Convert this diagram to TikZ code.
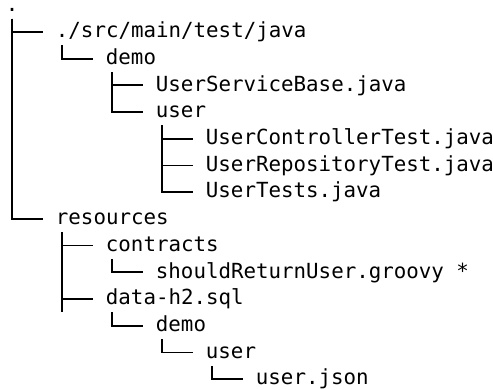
\documentclass[tikz,border=0pt]{standalone}
\usepackage{fontspec}
\setmonofont{DejaVu Sans Mono}
\usetikzlibrary{positioning}
\newdimen\rowDist
\newdimen\indentDist
\newdimen\charWidth
\newdimen\midLift
\rowDist=26.7pt
\indentDist=50pt
\charWidth=12.5pt
\midLift=5.8pt

\begin{document}
\begin{tikzpicture}[
    entry/.style={%
      anchor=base west,
      inner sep=0pt,
      font=\ttfamily\fontsize{20.8pt}{24pt}\selectfont,
    },
    branch/.style={%
      line width=1.8pt,
    },
  ]
    \useasboundingbox (0,0) rectangle (493pt,-390pt);

    \node [entry] (root) at (5.75pt,-11.1pt) {.};
    \path (root.base west) ++(\indentDist,-\rowDist) node [entry] (src) {./src/main/test/java};
    \path (src.base west) ++(\indentDist,-\rowDist) node [entry] (demoA) {demo};
    \path (demoA.base west) ++(\indentDist,-\rowDist) node [entry] (base) {UserServiceBase.java};
    \path (base.base west) ++(0,-\rowDist) node [entry] (userA) {user};
    \path (userA.base west) ++(\indentDist,-\rowDist) node [entry] (ctrl) {UserControllerTest.java};
    \path (ctrl.base west) ++(0,-\rowDist) node [entry] (repo) {UserRepositoryTest.java};
    \path (repo.base west) ++(0,-\rowDist) node [entry] (tests) {UserTests.java};
    \path (tests.base west) ++(-3\indentDist,-\rowDist) node [entry] (res) {resources};
    \path (res.base west) ++(\indentDist,-\rowDist) node [entry] (contracts) {contracts};
    \path (contracts.base west) ++(\indentDist,-\rowDist) node [entry] (groovy) {shouldReturnUser.groovy *};
    \path (groovy.base west) ++(-\indentDist,-\rowDist) node [entry] (data) {data-h2.sql};
    \path (data.base west) ++(\indentDist,-\rowDist) node [entry] (demoB) {demo};
    \path (demoB.base west) ++(\indentDist,-\rowDist) node [entry] (userB) {user};
    \path (userB.base west) ++(\indentDist,-\rowDist) node [entry] (json) {user.json};

    \draw [branch] ([shift={(0.5\charWidth,\midLift-0.5\rowDist)}]root.base west) |- ([shift={(-\charWidth,\midLift)}]src.base west);
    \draw [branch] ([shift={(0.5\charWidth,\midLift-0.5\rowDist)}]root.base west) |- ([shift={(-\charWidth,\midLift)}]res.base west);
    \draw [branch] ([shift={(0.5\charWidth,\midLift-0.5\rowDist)}]src.base west) |- ([shift={(-\charWidth,\midLift)}]demoA.base west);
    \draw [branch] ([shift={(0.5\charWidth,\midLift-0.5\rowDist)}]demoA.base west) |- ([shift={(-\charWidth,\midLift)}]base.base west);
    \draw [branch] ([shift={(0.5\charWidth,\midLift-0.5\rowDist)}]demoA.base west) |- ([shift={(-\charWidth,\midLift)}]userA.base west);
    \draw [branch] ([shift={(0.5\charWidth,\midLift-0.5\rowDist)}]userA.base west) |- ([shift={(-\charWidth,\midLift)}]ctrl.base west);
    \draw [branch] ([shift={(0.5\charWidth,\midLift-0.5\rowDist)}]userA.base west) |- ([shift={(-\charWidth,\midLift)}]repo.base west);
    \draw [branch] ([shift={(0.5\charWidth,\midLift-0.5\rowDist)}]userA.base west) |- ([shift={(-\charWidth,\midLift)}]tests.base west);
    \draw [branch] ([shift={(0.5\charWidth,\midLift-0.5\rowDist)}]res.base west) |- ([shift={(-\charWidth,\midLift)}]contracts.base west);
    \draw [branch] ([shift={(0.5\charWidth,\midLift-0.5\rowDist)}]res.base west) |- ([shift={(-\charWidth,\midLift)}]data.base west);
    \draw [branch] ([shift={(0.5\charWidth,\midLift-0.5\rowDist)}]contracts.base west) |- ([shift={(-\charWidth,\midLift)}]groovy.base west);
    \draw [branch] ([shift={(0.5\charWidth,\midLift-0.5\rowDist)}]data.base west) |- ([shift={(-\charWidth,\midLift)}]demoB.base west);
    \draw [branch] ([shift={(0.5\charWidth,\midLift-0.5\rowDist)}]demoB.base west) |- ([shift={(-\charWidth,\midLift)}]userB.base west);
    \draw [branch] ([shift={(0.5\charWidth,\midLift-0.5\rowDist)}]userB.base west) |- ([shift={(-\charWidth,\midLift)}]json.base west);

    % the data-h2.sql line keeps going below its row
    \coordinate (dataEnd) at ([shift={(-3.5\charWidth,\midLift-0.5\rowDist)}]data.base west);
    \draw [branch] ([shift={(-3.5\charWidth,\midLift)}]data.base west) -- (dataEnd);
\end{tikzpicture}
\end{document}
